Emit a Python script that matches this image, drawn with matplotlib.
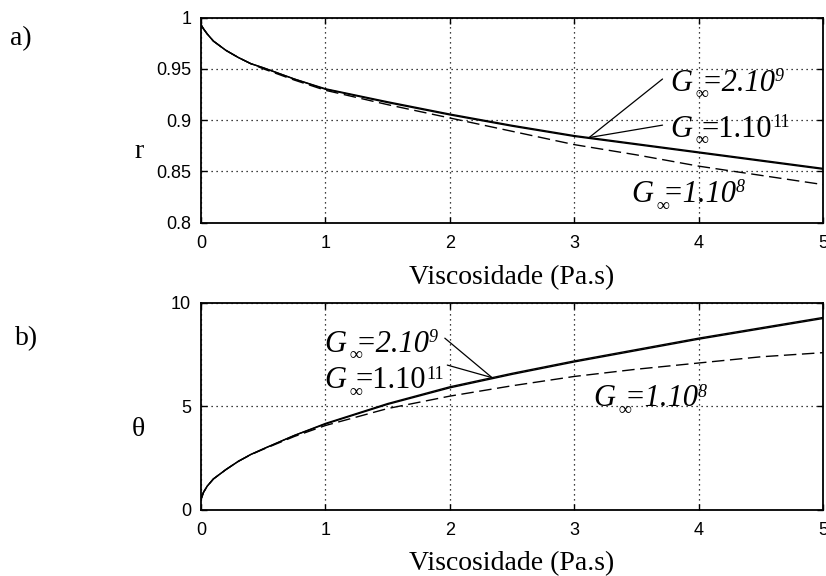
import numpy as np
import matplotlib
matplotlib.use("Agg")
import matplotlib.pyplot as plt

# valores
visc = [0, 0.02, 0.05, 0.1, 0.2, 0.3, 0.4, 0.5, 0.75, 1, 1.5, 2, 2.5, 3, 3.5, 4, 4.5, 5]

r_2e9 = [0.993, 0.989, 0.984, 0.977, 0.968, 0.961, 0.955, 0.951, 0.940, 0.930, 0.917,
         0.905, 0.894, 0.884, 0.876, 0.868, 0.860, 0.852]
r_1e11 = [0.993, 0.989, 0.984, 0.977, 0.968, 0.961, 0.955, 0.951, 0.940, 0.9305, 0.9178,
          0.9058, 0.8948, 0.8848, 0.8768, 0.8688, 0.8608, 0.8528]
r_1e8 = [0.993, 0.989, 0.984, 0.977, 0.968, 0.961, 0.955, 0.950, 0.939, 0.929, 0.915,
         0.902, 0.889, 0.876, 0.866, 0.855, 0.846, 0.837]

th_2e9 = [0.5, 0.85, 1.15, 1.5, 1.95, 2.35, 2.68, 2.95, 3.6, 4.15, 5.1, 5.9, 6.55, 7.15,
          7.7, 8.25, 8.75, 9.25]
th_1e11 = [0.5, 0.85, 1.15, 1.5, 1.95, 2.35, 2.68, 2.95, 3.6, 4.18, 5.14, 5.95, 6.6, 7.2,
           7.75, 8.3, 8.8, 9.3]
th_1e8 = [0.5, 0.85, 1.15, 1.5, 1.95, 2.35, 2.67, 2.93, 3.55, 4.08, 4.9, 5.5, 6.0, 6.45,
          6.8, 7.1, 7.4, 7.6]

r_ticks = [0.8, 0.85, 0.9, 0.95, 1]
r_ticklabels = ["0.8", "0.85", "0.9", "0.95", "1"]
th_ticks = [0, 5, 10]
x_ticks = [0, 1, 2, 3, 4, 5]

serif = ['Liberation Serif', 'DejaVu Serif']
sans = ['Liberation Sans', 'DejaVu Sans']
FS = 22


def g_label(ax, x, y, rest, sup, italic=True):
    # G com subscrito infinito, depois "=..." e o expoente
    st = 'italic' if italic else 'normal'
    g = ax.text(x, y, 'G', family=serif, style='italic', fontsize=FS,
                va='baseline', ha='left')
    ax.annotate('∞', xy=(1, 0), xycoords=g, xytext=(7, -1.2),
                textcoords='offset points', family=serif, style='italic',
                fontsize=13, ha='center', va='baseline')
    t = ax.annotate(rest, xy=(1, 0), xycoords=g, xytext=(7, 0),
                    textcoords='offset points', family=serif, style=st,
                    fontsize=FS, ha='left', va='bottom')
    ax.annotate(sup, xy=(1, 1), xycoords=t, xytext=(-1 if italic else 0, 0.5),
                textcoords='offset points', family=serif, style=st,
                fontsize=13, ha='left', va='top')


fig = plt.figure(figsize=(8.26, 5.76), dpi=100)
ax1 = fig.add_axes([0.2433, 0.6137, 0.7531, 0.3559])
ax2 = fig.add_axes([0.2433, 0.1146, 0.7531, 0.3594])

for ax in (ax1, ax2):
    ax.set_xlim(0, 5)
    ax.set_xticks(x_ticks)
    ax.set_xticklabels([str(t) for t in x_ticks], family=sans, fontsize=13)
    ax.grid(True, color='black', linestyle=(0, (1, 3)), linewidth=0.9)
    ax.tick_params(direction='in', length=4, width=1, top=True, right=True, pad=9)
    for s in ax.spines.values():
        s.set_linewidth(1.3)
    ax.set_xlabel('Viscosidade (Pa.s)', family=serif, fontsize=20)
    ax.xaxis.label.set_va('baseline')

ax1.xaxis.set_label_coords(0.5, -0.302)
ax2.xaxis.set_label_coords(0.5, -0.29)

# a) r
ax1.plot(visc, r_2e9, color='black', lw=1.0)
ax1.plot(visc, r_1e11, color='black', lw=1.0)
ax1.plot(visc, r_1e8, color='black', lw=1.0, linestyle=(0, (9, 4)))
ax1.set_ylim(0.8, 1)
ax1.set_yticks(r_ticks)
ax1.set_yticklabels(r_ticklabels, family=sans, fontsize=13)
ax1.tick_params(axis='y', pad=7)

p1 = (3.12, np.interp(3.12, visc, r_1e11))
for start in [(3.71, 0.940), (3.71, 0.895)]:
    ax1.annotate('', xy=p1, xytext=start,
                 arrowprops=dict(arrowstyle='-', color='black', lw=0.9,
                                 shrinkA=0, shrinkB=0))
g_label(ax1, 3.77, 0.9286, '=2.10', '9')
g_label(ax1, 3.77, 0.8837, '=1.10', '11', italic=False)
g_label(ax1, 3.457, 0.820, '=1.10', '8')

# b) theta
ax2.plot(visc, th_2e9, color='black', lw=1.0)
ax2.plot(visc, th_1e11, color='black', lw=1.0)
ax2.plot(visc, th_1e8, color='black', lw=1.0, linestyle=(0, (9, 4)))
ax2.set_ylim(0, 10)
ax2.set_yticks(th_ticks)
ax2.set_yticklabels([str(t) for t in th_ticks], family=sans, fontsize=13)
ax2.tick_params(axis='y', pad=7)

p2 = (2.34, np.interp(2.34, visc, th_1e11))
for start in [(1.96, 8.3), (1.98, 7.0)]:
    ax2.annotate('', xy=p2, xytext=start,
                 arrowprops=dict(arrowstyle='-', color='black', lw=0.9,
                                 shrinkA=0, shrinkB=0))
g_label(ax2, 0.99, 7.65, '=2.10', '9')
g_label(ax2, 0.99, 5.88, '=1.10', '11', italic=False)
g_label(ax2, 3.15, 5.0, '=1.10', '8')

# rótulos
fig.text(139 / 826, 1 - 158 / 576, 'r', family=serif, fontsize=20, ha='center', va='baseline')
fig.text(138 / 826, 1 - 436 / 576, 'θ', family=serif, fontsize=20, ha='center', va='baseline')
fig.text(10 / 826, 1 - 45 / 576, 'a)', family=serif, fontsize=20, ha='left', va='baseline')
fig.text(15 / 826, 1 - 345 / 576, 'b)', family=serif, fontsize=20, ha='left', va='baseline')

fig.savefig('out.png', dpi=100)
